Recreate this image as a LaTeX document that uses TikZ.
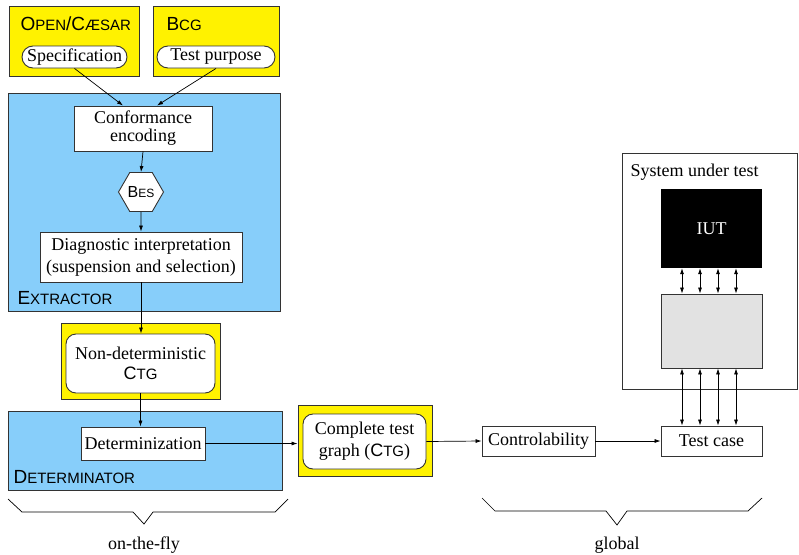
\documentclass[tikz,border=0pt]{standalone}
\usepackage{fontspec}
\setmainfont{Liberation Serif}
\setsansfont{Liberation Sans}
\usetikzlibrary{shapes.geometric,arrows.meta}
\definecolor{skyblue}{RGB}{135,206,250}
\definecolor{sutgray}{RGB}{226,226,226}
\newcommand{\lsc}[1]{{\fontsize{15}{18}\selectfont #1}}

\begin{document}
\begin{tikzpicture}[x=1pt,y=-1pt,font=\fontsize{18}{20}\selectfont]
 \tikzstyle{ybox}=[rectangle, draw=black!80, line width=0.9pt, fill=yellow, inner sep=0pt]
 \tikzstyle{bbox}=[rectangle, draw=black!80, line width=0.9pt, fill=skyblue, inner sep=0pt]
 \tikzstyle{wbox}=[rectangle, draw=black!80, line width=0.9pt, fill=white, inner sep=0pt, align=center]
 \tikzstyle{pill}=[wbox, rounded corners=11pt, minimum height=22]
 \tikzstyle{rbox}=[wbox, rounded corners=10pt]
 \tikzstyle{tool}=[anchor=west, font=\sffamily\fontsize{19}{22}\selectfont]
 \tikzstyle{arr}=[-{Latex[length=6pt,width=4pt]}, line width=0.7pt]
 \tikzstyle{dblarr}=[{Latex[length=6pt,width=4pt]}-{Latex[length=6pt,width=4pt]}, line width=0.7pt]
\useasboundingbox (0,0) rectangle (799,554);
% tools
\draw (74,41) node[ybox, minimum width=130, minimum height=70] (ocae) {};
\draw (17,24) node[tool] {O\lsc{PEN}/C\lsc{ÆSAR}};
\draw (74.5,57) node[pill, minimum width=105] (spec) {Specification};
\draw (216,41) node[ybox, minimum width=126, minimum height=70] (bcg) {};
\draw (163,24) node[tool] {B\lsc{CG}};
\draw (216,57) node[pill, minimum width=118] (tp) {Test purpose};
% extractor
\draw (144,202) node[bbox, minimum width=272, minimum height=218] (ext) {};
\draw (14,298) node[tool] {E\lsc{XTRACTOR}};
\draw (143,128.5) node[wbox, minimum width=138, minimum height=45, font=\fontsize{18}{18}\selectfont] (conf) {Conformance\\encoding};
\draw (141,192) node[wbox, regular polygon, regular polygon sides=6, minimum size=45, font=\sffamily\fontsize{16}{18}\selectfont] (bes) {B{\fontsize{12}{14}\selectfont ES}};
\draw (141,257) node[wbox, minimum width=202, minimum height=50, font=\fontsize{18}{22}\selectfont] (diag) {Diagnostic interpretation\\(suspension and selection)};
% non-deterministic ctg
\draw (140.5,361) node[ybox, minimum width=159, minimum height=76] (ndy) {};
\draw (140.5,363.5) node[rbox, minimum width=149, minimum height=59] (nd) {Non-deterministic\\{\sffamily C\lsc{TG}}};
% determinator
\draw (145,450.5) node[bbox, minimum width=274, minimum height=79] (det) {};
\draw (10,477) node[tool] {D\lsc{ETERMINATOR}};
\draw (143,443.5) node[wbox, minimum width=124, minimum height=33] (detz) {Determinization};
% complete ctg
\draw (365,441) node[ybox, minimum width=134, minimum height=71] (ctgy) {};
\draw (364.5,441.5) node[rbox, minimum width=123, minimum height=55, font=\fontsize{18}{22}\selectfont] (ctg) {Complete test\\graph ({\sffamily C\lsc{TG}})};
% global part
\draw (538.5,441) node[wbox, minimum width=113, minimum height=30] (contr) {Controlability};
\draw (711.5,441) node[wbox, minimum width=101, minimum height=30] (tcase) {Test case};
% system under test
\draw (709.5,271) node[rectangle, draw=black!80, line width=0.9pt, minimum width=175, minimum height=236] (sut) {};
\draw (627,172) node[anchor=west] {System under test};
\draw (711.5,228.5) node[rectangle, fill=black, minimum width=101, minimum height=79, text=white] (iut) {IUT};
\draw (711.5,331) node[rectangle, draw=black!80, line width=0.9pt, fill=sutgray, minimum width=101, minimum height=74] (gray) {};
% connectors
\draw[arr] (spec.south) -- ([xshift=-20]conf.north);
\draw[arr] (tp.south) -- ([xshift=14]conf.north);
\draw[arr] (conf.south) -- (bes.north);
\draw[arr] (bes.south) -- (diag.north);
\draw[arr] (diag.south) -- (diag.south |- nd.north);
\draw[arr] (nd.south) -- (nd.south |- detz.north);
\draw[arr] (detz.east) -- (detz.east -| ctgy.west);
\draw[arr] (ctg.east) -- (contr.west);
\draw[arr] (contr) -- (tcase);
\foreach \dx in {-29.5,-11.5,6.5,24.5} {
  \draw[dblarr] ([xshift=\dx]tcase.north) -- ([xshift=\dx]gray.south);
  \draw[dblarr] ([xshift=\dx]gray.north) -- ([xshift=\dx]iut.south);
}
% braces
\draw[line width=0.7pt] (8,499) -- (22,512) -- (133,512) -- (144,524) -- (153,512) -- (275,512) -- (288,499);
\draw (144,545) node (fly) {on-the-fly};
\draw[line width=0.7pt] (482,498) -- (495,511) -- (606,511) -- (617,525) -- (627,511) -- (748,511) -- (762,498);
\draw (617,545) node (glob) {global};
\end{tikzpicture}
\end{document}
